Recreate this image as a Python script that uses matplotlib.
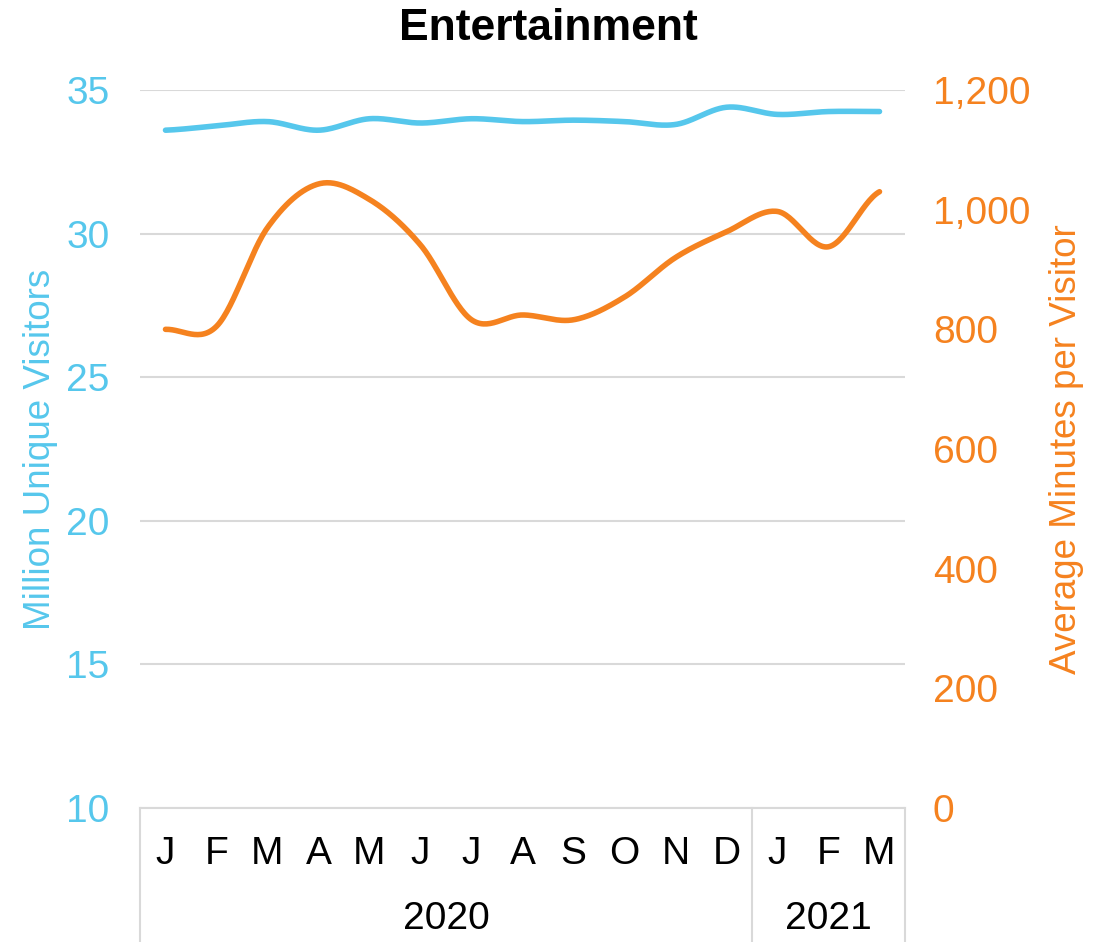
import matplotlib.pyplot as plt
import matplotlib.transforms as mtransforms
from matplotlib.ticker import FuncFormatter
import numpy as np

plt.rcParams['font.family'] = ['Liberation Sans', 'DejaVu Sans']

months = ["J", "F", "M", "A", "M", "J", "J", "A", "S", "O", "N", "D", "J", "F", "M"]
years = ["2020", "2021"]
year_counts = [12, 3]
visitors = [33.6, 33.75, 33.9, 33.6, 34.0, 33.85, 34.0, 33.9, 33.95, 33.9, 33.8, 34.4, 34.15, 34.25, 34.25]
minutes = [800, 805, 970, 1043, 1017, 941, 816, 824, 816, 854, 920, 963, 997, 938, 1030]

BLUE = "#56C7EC"
ORANGE = "#F5821F"
GRID = "#D9D9D9"


def smooth(y, n=30):
    # catmull-rom through the points, like Excel's smoothed line
    y = np.asarray(y, float)
    p = np.concatenate([[y[0]], y, [y[-1]]])
    xs, ys = [], []
    for i in range(len(y) - 1):
        t = np.linspace(0, 1, n, endpoint=False)
        p0, p1, p2, p3 = p[i], p[i + 1], p[i + 2], p[i + 3]
        yy = 0.5 * ((2 * p1) + (-p0 + p2) * t + (2 * p0 - 5 * p1 + 4 * p2 - p3) * t ** 2
                    + (-p0 + 3 * p1 - 3 * p2 + p3) * t ** 3)
        xs.append(i + t)
        ys.append(yy)
    xs.append([len(y) - 1])
    ys.append([y[-1]])
    return np.concatenate(xs), np.concatenate(ys)


W, H = 1109, 942
fig = plt.figure(figsize=(W / 100, H / 100), dpi=100)
ax = fig.add_axes([140 / W, (H - 808) / H, 765 / W, 718 / H])
ax2 = ax.twinx()

x = np.arange(len(months))
sx, sy = smooth(visitors)
ax.plot(sx, sy, color=BLUE, lw=4, solid_capstyle="round", zorder=3)
sx, sy = smooth(minutes)
ax2.plot(sx, sy, color=ORANGE, lw=4, solid_capstyle="round", zorder=3)

ax.set_xlim(-0.5, len(months) - 0.5)
ax.set_ylim(10, 35)
ax.set_yticks([10, 15, 20, 25, 30, 35])
ax2.set_ylim(0, 1200)
ax2.set_yticks(range(0, 1201, 200))
ax2.yaxis.set_major_formatter(FuncFormatter(lambda v, p: f"{int(v):,}"))

ax.grid(axis="y", color=GRID, lw=1.5)
ax.set_axisbelow(True)
for a in (ax, ax2):
    for s in a.spines.values():
        s.set_visible(False)
ax.spines["bottom"].set_visible(True)
ax.spines["bottom"].set_color(GRID)
ax.spines["bottom"].set_linewidth(1.5)

ax.tick_params(axis="y", length=0, pad=22, labelsize=28, labelcolor=BLUE)
ax2.tick_params(axis="y", length=0, pad=20, labelsize=28, labelcolor=ORANGE)
ax.set_xticks([])

ax.set_ylabel("Million Unique Visitors", color=BLUE, fontsize=26.5)
ax2.set_ylabel("Average Minutes per Visitor", color=ORANGE, fontsize=26.5, rotation=90)
ax.yaxis.set_label_coords(-0.107, 0.5)
ax2.yaxis.set_label_coords(1.188, 0.5)
fig.text(548 / W, 1 - 28 / H, "Entertainment", fontsize=32, fontweight="bold", ha="center", va="center")

# two-level category axis
trans = mtransforms.blended_transform_factory(ax.transData, fig.transFigure)
for i, m in enumerate(months):
    ax.text(i, 1 - 854 / H, m, transform=trans, ha="center", va="center", fontsize=28)
start = 0
bounds = [-0.5]
for yr, c in zip(years, year_counts):
    ax.text(start + (c - 1) / 2, 1 - 919 / H, yr, transform=trans, ha="center", va="center", fontsize=28)
    start += c
    bounds.append(start - 0.5)
for b in bounds:
    ax.plot([b, b], [1 - 808 / H, 0], transform=trans, color=GRID, lw=1.5, clip_on=False)

fig.savefig("out.png", dpi=100)
